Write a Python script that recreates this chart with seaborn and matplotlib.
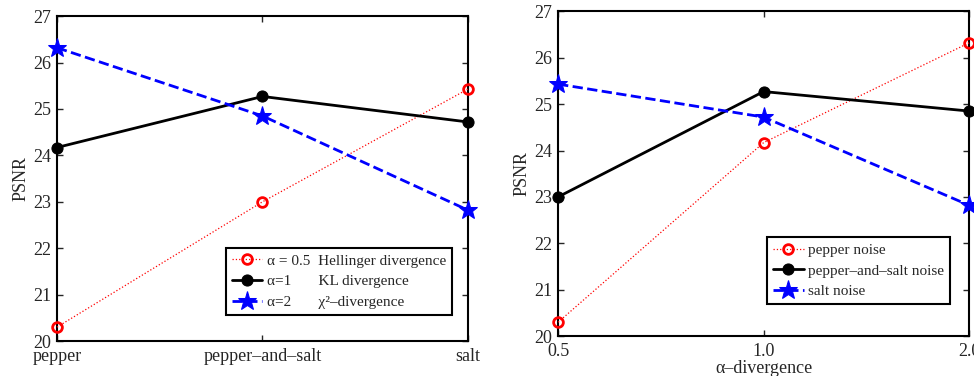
import matplotlib
matplotlib.use("Agg")
import matplotlib.pyplot as plt
import seaborn as sns

# noise types (left x axis) and alpha values (right x axis)
noise_types = ["pepper", "pepper\u2013and\u2013salt", "salt"]
alphas = ["0.5", "1.0", "2.0"]

# PSNR per noise type, across alpha = 0.5, 1, 2
psnr_pepper = [20.30, 24.17, 26.32]
psnr_pepper_salt = [23.00, 25.27, 24.85]
psnr_salt = [25.43, 24.72, 22.82]

# same numbers, read per alpha across noise types
psnr_a05 = [psnr_pepper[0], psnr_pepper_salt[0], psnr_salt[0]]
psnr_a1 = [psnr_pepper[1], psnr_pepper_salt[1], psnr_salt[1]]
psnr_a2 = [psnr_pepper[2], psnr_pepper_salt[2], psnr_salt[2]]

left_labels = ["\u03b1 = 0.5  Hellinger divergence",
               "\u03b1=1       KL divergence",
               "\u03b1=2       \u03c7\u00b2\u2013divergence"]
right_labels = ["pepper noise", "pepper\u2013and\u2013salt noise", "salt noise"]

sns.set_style("ticks", {"xtick.direction": "in", "ytick.direction": "in",
                        "axes.edgecolor": "black"})
plt.rcParams["font.family"] = ["Liberation Serif", "DejaVu Serif"]
plt.rcParams["xtick.top"] = True
plt.rcParams["ytick.right"] = True

styles = [
    dict(color="red", linestyle=":", linewidth=0.9, marker="o", markersize=7,
         markerfacecolor="none", markeredgecolor="red", markeredgewidth=2),
    dict(color="black", linestyle="-", linewidth=2, marker="o", markersize=8,
         markerfacecolor="black", markeredgecolor="black"),
    dict(color="blue", linestyle="--", linewidth=2, marker="*", markersize=14,
         markerfacecolor="blue", markeredgecolor="blue"),
]

fig = plt.figure(figsize=(9.74, 3.76), dpi=100)
ax1 = fig.add_axes([0.0585, 0.093, 0.422, 0.864])
ax2 = fig.add_axes([0.573, 0.106, 0.422, 0.864])

for ys, lab, st in zip([psnr_a05, psnr_a1, psnr_a2], left_labels, styles):
    sns.lineplot(x=noise_types, y=ys, ax=ax1, label=lab, sort=False,
                 clip_on=False, zorder=3, **st)

for ys, lab, st in zip([psnr_pepper, psnr_pepper_salt, psnr_salt], right_labels, styles):
    sns.lineplot(x=alphas, y=ys, ax=ax2, label=lab, sort=False,
                 clip_on=False, zorder=3, **st)

for ax in (ax1, ax2):
    ax.set_xlim(0, 2)
    ax.set_ylim(20, 27)
    ax.set_yticks(range(20, 28))
    ax.set_ylabel("PSNR", fontsize=13, labelpad=3)
    ax.tick_params(axis="both", labelsize=13, length=4, width=1)
    ax.tick_params(axis="x", pad=5)
    ax.tick_params(axis="y", pad=4)
    for s in ax.spines.values():
        s.set_linewidth(1.5)

ax1.set_xlabel("")
ax2.set_xlabel("\u03b1\u2013divergence", fontsize=13, labelpad=0)

for ax, anchor in ((ax1, (0.962, 0.08)), (ax2, (0.954, 0.098))):
    leg = ax.legend(loc="lower right", bbox_to_anchor=anchor, fontsize=11,
                    frameon=True, fancybox=False, edgecolor="black", framealpha=1,
                    handlelength=2.0, borderpad=0.4, labelspacing=0.45,
                    handletextpad=0.3, borderaxespad=0)
    leg.get_frame().set_linewidth(1.5)

fig.savefig("out.png", dpi=100)
